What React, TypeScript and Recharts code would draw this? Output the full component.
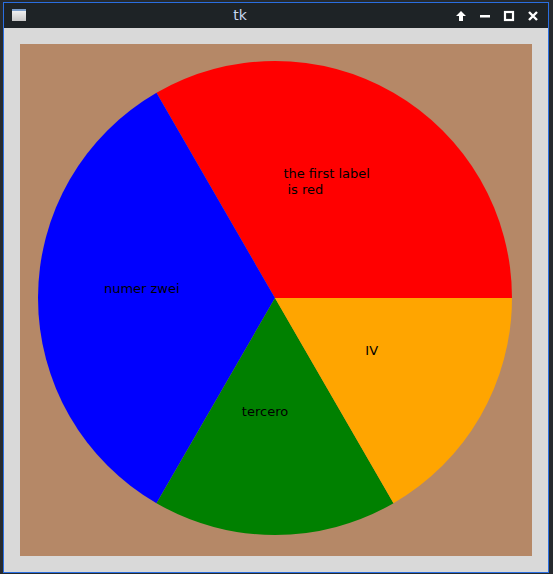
import React from "react";
import { PieChart, Pie, Cell } from "recharts";

const labels = ["the first label\n is red", "numer zwei", "tercero", "IV"];
const values = [2, 2, 1, 1];
const colors = ["#ff0000", "#0000ff", "#008000", "#ffa500"];

const data = labels.map((label, i) => ({ label, value: values[i] }));

const RAD = Math.PI / 180;

const renderLabel = (props: any) => {
  const { cx, cy, midAngle, outerRadius, index } = props;
  // tk draws the text a bit up/left of the wedge midpoint
  const d = outerRadius * 0.52;
  const x = cx - 10 + d * Math.cos(-midAngle * RAD);
  const y = cy - 9 + d * Math.sin(-midAngle * RAD);
  return (
    <foreignObject x={x - 100} y={y - 40} width={200} height={80}>
      <div
        style={{
          width: 200,
          height: 80,
          display: "flex",
          alignItems: "center",
          justifyContent: "center",
        }}
      >
        <div
          style={{
            whiteSpace: "pre",
            textAlign: "left",
            fontFamily: "DejaVu Sans",
            fontSize: 13,
            lineHeight: "16px",
            color: "#000",
          }}
        >
          {labels[index]}
        </div>
      </div>
    </foreignObject>
  );
};

const iconStyle: React.CSSProperties = {
  position: "absolute",
  top: 6,
  width: 14,
  height: 14,
};

export default function App() {
  return (
    <div
      style={{
        position: "absolute",
        left: 0,
        top: 0,
        width: 553,
        height: 574,
        background: "#262a2e",
        overflow: "hidden",
      }}
    >
      {/* window frame */}
      <div
        style={{
          position: "absolute",
          left: 3,
          top: 2,
          width: 544,
          height: 569,
          border: "1px solid #2a6ee0",
          background: "#d9d9d9",
        }}
      />
      {/* title bar */}
      <div
        style={{
          position: "absolute",
          left: 4,
          top: 3,
          width: 544,
          height: 25,
          background: "#1e2326",
        }}
      >
        <div
          style={{
            position: "absolute",
            left: 8,
            top: 6,
            width: 14,
            height: 12,
            background: "linear-gradient(#f0f0f0, #c8c8c8)",
            borderTop: "2px solid #7a9cc8",
            boxSizing: "border-box",
          }}
        />
        <div
          style={{
            position: "absolute",
            left: 0,
            width: 472,
            top: 4,
            textAlign: "center",
            color: "#c8d8f0",
            fontFamily: "DejaVu Sans",
            fontSize: 14,
          }}
        >
          tk
        </div>
        <svg style={{ ...iconStyle, left: 450 }} viewBox="0 0 14 14">
          <path d="M7 2 L12 7 L9 7 L9 12 L5 12 L5 7 L2 7 Z" fill="#fff" />
        </svg>
        <svg style={{ ...iconStyle, left: 474 }} viewBox="0 0 14 14">
          <rect x="2" y="6" width="10" height="2.5" fill="#fff" />
        </svg>
        <svg style={{ ...iconStyle, left: 498 }} viewBox="0 0 14 14">
          <rect x="3" y="3" width="8" height="8" fill="none" stroke="#fff" strokeWidth="2.2" />
        </svg>
        <svg style={{ ...iconStyle, left: 522 }} viewBox="0 0 14 14">
          <path d="M3 3 L11 11 M11 3 L3 11" stroke="#fff" strokeWidth="2.4" />
        </svg>
      </div>
      {/* canvas */}
      <div
        style={{
          position: "absolute",
          left: 20,
          top: 44,
          width: 512,
          height: 512,
          background: "#b58867",
        }}
      >
        <PieChart width={512} height={512} margin={{ top: 0, right: 0, bottom: 0, left: 0 }}>
          <Pie
            data={data}
            dataKey="value"
            cx={255}
            cy={254}
            outerRadius={237}
            startAngle={0}
            endAngle={360}
            stroke="none"
            labelLine={false}
            label={renderLabel}
            isAnimationActive={false}
          >
            {data.map((d, i) => (
              <Cell key={d.label} fill={colors[i]} />
            ))}
          </Pie>
        </PieChart>
      </div>
    </div>
  );
}
